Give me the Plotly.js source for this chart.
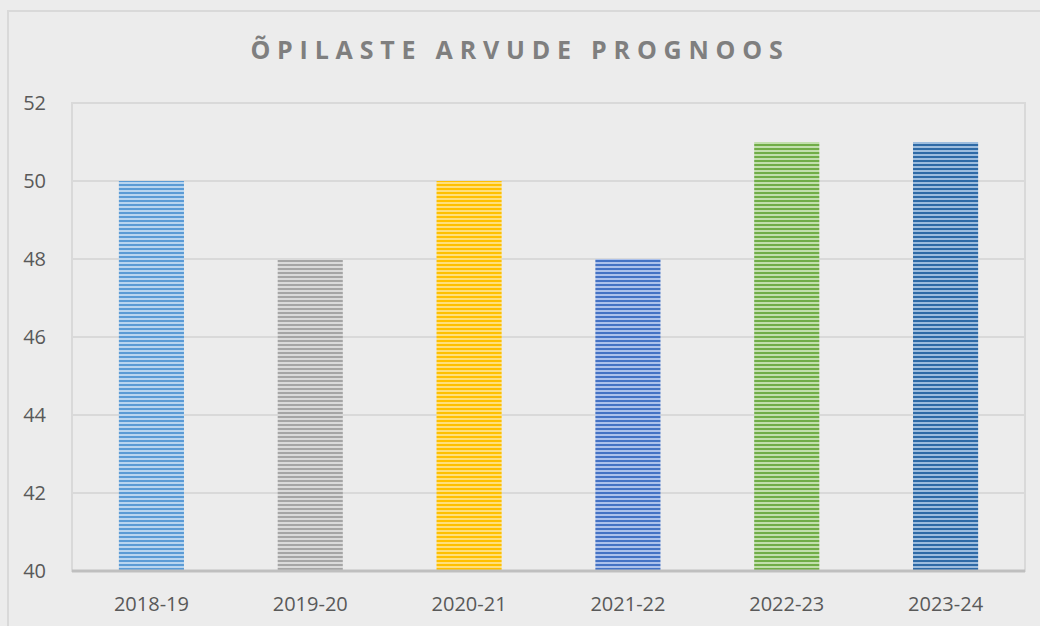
<!DOCTYPE html>
<html>
<head>
<meta charset="utf-8">
<script src="https://cdn.plot.ly/plotly-3.0.1.min.js"></script>
<style>
  html, body { margin: 0; padding: 0; overflow: hidden; background: #ececec; }
  #chart { width: 1040px; height: 626px; }
  #frame { position: absolute; left: 7px; top: 10px; width: 1100px; height: 700px;
           border: 2px solid #d9d9d9; box-sizing: border-box; pointer-events: none; }
</style>
</head>
<body>
<div id="chart"></div>
<div id="frame"></div>
<script>
const categories = ["2018-19", "2019-20", "2020-21", "2021-22", "2022-23", "2023-24"];
const values = [50, 48, 50, 48, 51, 51];
const barColors = ["#5b9bd5", "#a5a5a5", "#ffc000", "#4472c4", "#70ad47", "#2e6aa6"];
const barLight = ["#c4dcf2", "#e0e0e0", "#ffe38a", "#b8caf0", "#cbe5b8", "#a9c6e4"];
const yTicks = [40, 42, 44, 46, 48, 50, 52];
const titleText = "ÕPILASTE ARVUDE PROGNOOS";

const traces = categories.map(function (cat, i) {
  return {
    type: "bar",
    x: [cat],
    y: [values[i]],
    width: 0.41,
    marker: {
      color: barLight[i],
      line: { width: 0 },
      pattern: { shape: "-", fgcolor: barColors[i], fgopacity: 1, size: 4, solidity: 0.55, fillmode: "overlay" }
    },
    hoverinfo: "x+y"
  };
});

const layout = {
  width: 1040, height: 626,
  paper_bgcolor: "#ececec", plot_bgcolor: "#ececec",
  margin: { l: 72, r: 15, t: 103, b: 55 },
  barmode: "overlay",
  title: {
    text: "<b>" + titleText + "</b>",
    x: 0.5, xanchor: "center", y: 0.92, yanchor: "middle",
    font: { family: "Open Sans", size: 25, color: "#7f7f7f" }
  },
  font: { family: "Open Sans", color: "#595959" },
  xaxis: {
    type: "category",
    categoryarray: categories,
    showgrid: false,
    showline: false,
    zeroline: false,
    ticks: "outside", ticklen: 15, tickcolor: "rgba(0,0,0,0)",
    tickfont: { family: "Open Sans", size: 20, color: "#595959" }
  },
  yaxis: {
    range: [40, 52],
    tickvals: yTicks,
    ticktext: yTicks.map(String),
    showgrid: true, gridcolor: "#d9d9d9", gridwidth: 1.5,
    zeroline: false, showline: false,
    ticks: "outside", ticklen: 21, tickcolor: "rgba(0,0,0,0)",
    tickfont: { family: "Open Sans", size: 20, color: "#595959" }
  },
  shapes: [
    { type: "rect", xref: "paper", yref: "paper", x0: 0, x1: 1, y0: 0, y1: 1,
      line: { color: "#d9d9d9", width: 2 }, layer: "below" },
    { type: "line", xref: "paper", yref: "paper", x0: 0, x1: 1, y0: 0, y1: 0,
      line: { color: "#bfbfbf", width: 3 }, layer: "above" }
  ],
  showlegend: false
};

Plotly.newPlot("chart", traces, layout, { displayModeBar: false, staticPlot: true }).then(function () {
  document.querySelectorAll(".gtitle").forEach(function (t) {
    t.setAttribute("letter-spacing", "6.8px");
    t.style.letterSpacing = "6.8px";
  });
});
</script>
</body>
</html>
